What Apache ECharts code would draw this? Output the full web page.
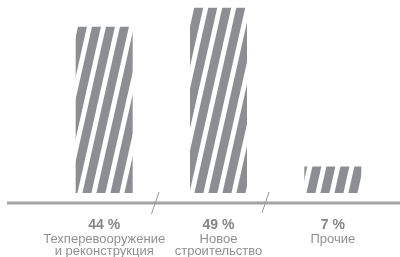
<!DOCTYPE html>
<html><head><meta charset="utf-8">
<script src="https://cdn.jsdelivr.net/npm/echarts@6/dist/echarts.min.js"></script>
<style>html,body{margin:0;padding:0;background:#fff}#c{width:400px;height:257px}</style>
</head><body><div id="c"></div>
<script>
var categories = ['Техперевооружение\nи реконструкция', 'Новое\nстроительство', 'Прочие'];
var values = [44, 49, 7];
var valueLabels = ['44 %', '49 %', '7 %'];

function stripePattern() {
  var P = 14, H = 62, g = 9;
  var c = document.createElement('canvas');
  c.width = P; c.height = H;
  var ctx = c.getContext('2d');
  ctx.fillStyle = '#ffffff';
  ctx.fillRect(0, 0, P, H);
  ctx.fillStyle = '#8d8e92';
  for (var k = -2; k <= 2; k++) {
    var o = k * P;
    ctx.beginPath();
    ctx.moveTo(o + 0, H);
    ctx.lineTo(o + g, H);
    ctx.lineTo(o + g + P, 0);
    ctx.lineTo(o + P, 0);
    ctx.closePath();
    ctx.fill();
  }
  return c;
}

var chart = echarts.init(document.getElementById('c'), null, {renderer: 'canvas'});
chart.setOption({
  animation: false,
  grid: {left: 47, right: 10, top: 4, bottom: 64, containLabel: false, outerBoundsMode: 'none'},
  xAxis: {
    type: 'category',
    data: categories,
    axisLine: {show: false},
    axisTick: {show: false},
    axisLabel: {
      margin: 25,
      interval: 0,
      formatter: function (v, i) {
        return '{v|' + valueLabels[i] + '}\n{n|' + v.split('\n').join('}\n{n|') + '}';
      },
      rich: {
        v: {fontFamily: 'Liberation Sans', fontSize: 14, fontWeight: 'bold', color: '#858585', lineHeight: 15},
        n: {fontFamily: 'Liberation Sans', fontSize: 13, color: '#909090', lineHeight: 12.5}
      }
    }
  },
  yAxis: {
    type: 'value', min: 0, max: 50,
    show: false
  },
  graphic: [
    {type: 'line', shape: {x1: 7, y1: 203, x2: 400, y2: 203}, style: {stroke: '#a3a3a3', lineWidth: 3}},
    {type: 'line', shape: {x1: 159, y1: 192, x2: 151.5, y2: 214}, style: {stroke: '#9a9a9a', lineWidth: 1}},
    {type: 'line', shape: {x1: 269, y1: 192, x2: 262, y2: 213}, style: {stroke: '#9a9a9a', lineWidth: 1}}
  ],
  series: [{
    type: 'bar',
    data: values,
    barWidth: 57,
    itemStyle: {color: {image: stripePattern(), repeat: 'repeat'}}
  }]
});
</script>
</body></html>
